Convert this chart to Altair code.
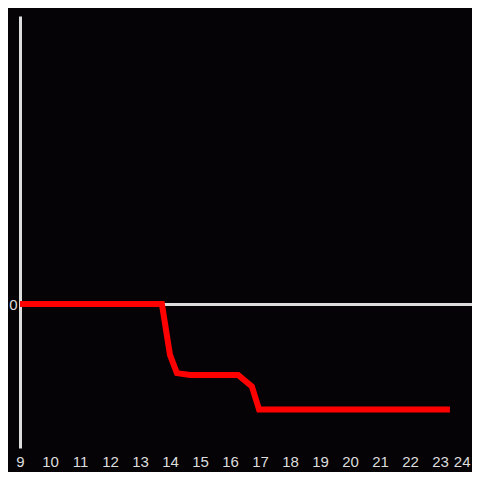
import altair as alt
import pandas as pd

hours = [9, 13.73, 14.0, 14.23, 14.67, 16.27, 16.73, 16.97, 23.33]
values = [0, 0, -0.53, -0.72, -0.74, -0.74, -0.86, -1.10, -1.10]
x_ticks = list(range(9, 25))

df = pd.DataFrame({"hour": hours, "value": values})

chart = alt.Chart(df).mark_line(color="#ff0000", strokeWidth=6, strokeJoin="miter", clip=True).encode(
    x=alt.X("hour:Q", scale=alt.Scale(domain=[9, 9 + 452 / 30], nice=False, zero=False),
            axis=alt.Axis(values=x_ticks, title=None, domain=False, ticks=False, grid=False,
                          labelColor="#dddddd", labelFontSize=15, labelPadding=6,
                          labelAlign={"expr": "datum.value >= 24 ? 'right' : 'center'"},
                          labelFont="Liberation Sans", labelFlush=False, labelOverlap=False)),
    y=alt.Y("value:Q", scale=alt.Scale(domain=[-1.5, 3], nice=False),
            axis=alt.Axis(values=[0], title=None, ticks=False, domain=True, domainColor="#dddddd",
                          domainWidth=3, grid=True, gridColor="#dddddd", gridWidth=3, gridOpacity=1,
                          labelColor="#dddddd", labelFontSize=15, labelPadding=3,
                          labelFont="Liberation Sans")),
).properties(
    width=452, height=432,
    background="#050306",
    padding={"left": 12, "top": 8, "right": 0, "bottom": 24},
    autosize=alt.AutoSizeParams(type="none"),
).configure_view(stroke=None)

chart.save("out.html", embed_options={"renderer": "svg", "actions": False})
